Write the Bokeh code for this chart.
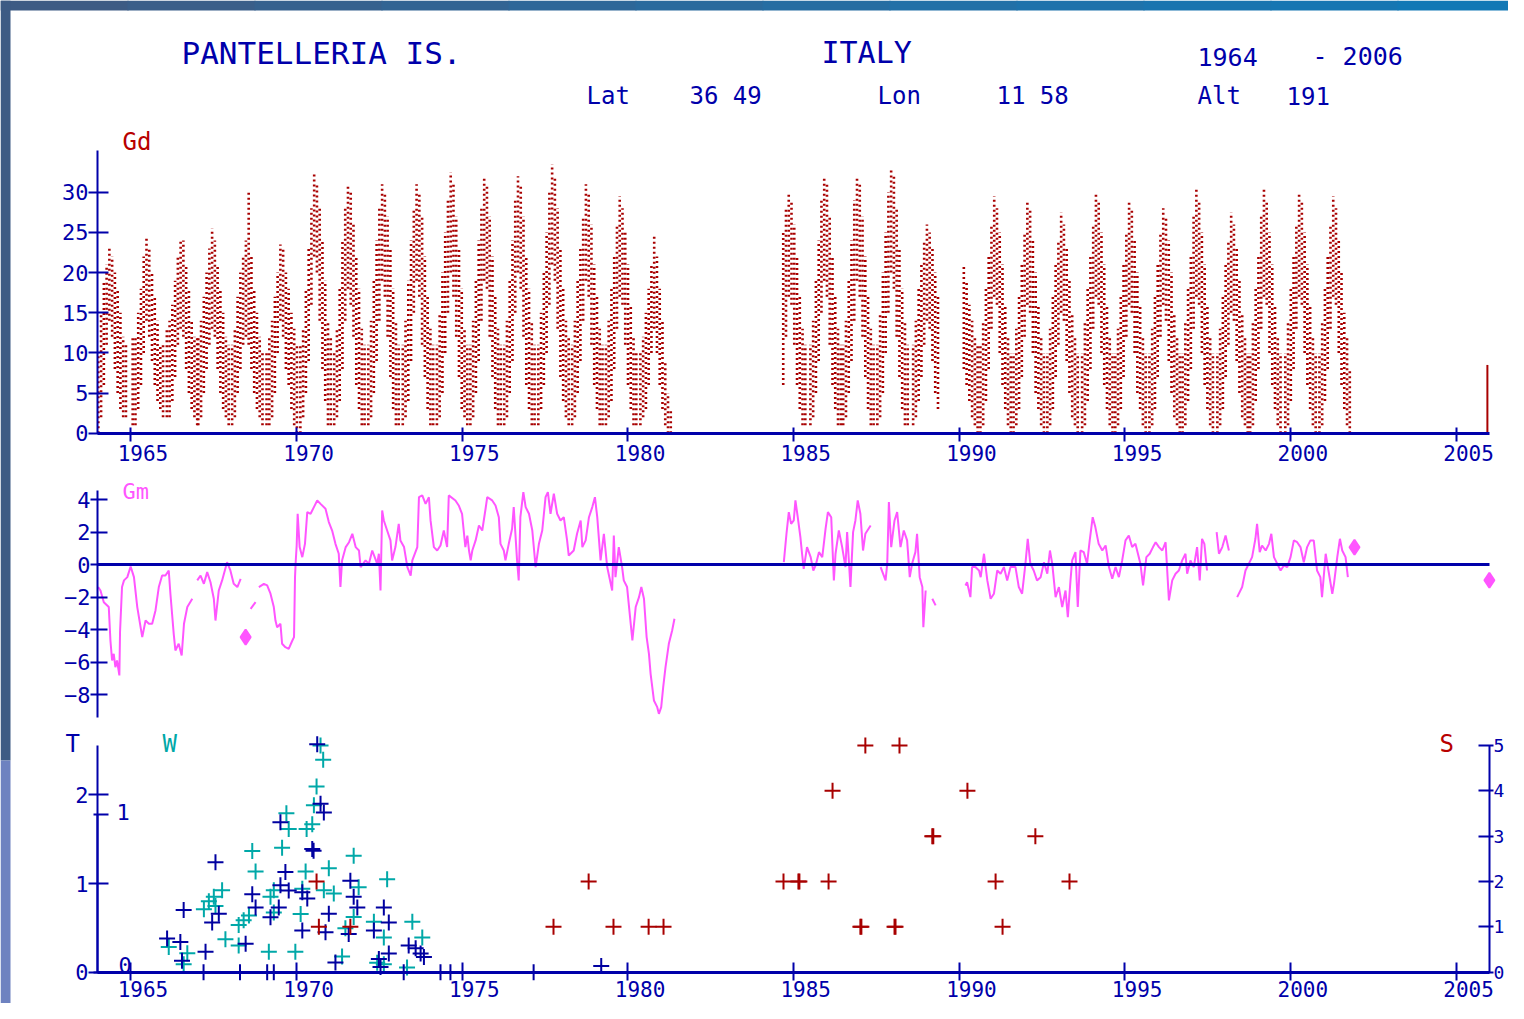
import math
from bokeh.plotting import figure
from bokeh.models import Range1d, LinearAxis, FixedTicker, BoxAnnotation
from bokeh.embed import file_html
from bokeh.resources import INLINE
from bokeh.core.properties import value

# ---------------------------------------------------------------- data
year_ticks = [1965, 1970, 1975, 1980, 1985, 1990, 1995, 2000, 2005]
year_labels = ["1965", "1970", "1975", "1980", "1985", "1990", "1995", "2000", "2005"]
gd_ticks = [0, 5, 10, 15, 20, 25, 30]
gm_ticks = [-8, -6, -4, -2, 0, 2, 4]
t_ticks = [0, 1, 2]
w_ticks = [0, 1]
s_ticks = [0, 1, 2, 3, 4, 5]

# Gd : daily values, summarised per month (low / high of the cloud) for each yearly cycle
gd_peak_t = [1964.40, 1965.52, 1966.55, 1967.50, 1968.52, 1969.56, 1970.58, 1971.60,
             1972.63, 1973.67, 1974.70, 1975.71, 1976.73, 1977.76, 1978.78, 1979.80,
             1980.84, 1984.90, 1985.97, 1986.96, 1987.99, 1989.07, 1990.10, 1991.10,
             1992.10, 1993.12, 1994.17, 1995.17, 1996.20, 1997.20, 1998.25, 1999.24,
             2000.30, 2001.33]
gd_hi = [
    [None, 10, 15, 19, 21, 23, 22, 20, 18, 15, 12, 11],
    [12, 12, 15, 18, 22, 24.5, 23, 20, 17, 14, 11, 11],
    [13, 14, 16, 19, 22, 24, 24, 21, 18, 14, 12, 12],
    [12, 14, 17, 20, 23, 25.5, 24, 21, 18, 15, 12, 11],
    [11, 13, 17, 20, 22, 24, 30, 22, 18, 15, 12, 10],
    [10, 12, 14, 17, 20, 23.5, 23, 20, 18, 15, 13, 11],
    [11, 13, 18, 23, 28, 32.5, 31, 28, 24, 19, 14, 12],
    [10, 13, 18, 24, 28, 31, 30, 26, 22, 18, 13, 11],
    [11, 14, 19, 24, 28, 31, 30, 27, 23, 18, 14, 11],
    [11, 14, 19, 24, 28, 31, 30, 27, 22, 17, 13, 11],
    [11, 15, 20, 25, 29, 32.5, 31, 27, 23, 18, 13, 11],
    [11, 14, 19, 24, 28, 32, 31, 27, 22, 17, 13, 11],
    [11, 14, 19, 24, 29, 32, 31, 27, 22, 18, 14, 11],
    [11, 15, 20, 25, 30, 33.5, 32, 28, 23, 18, 14, 12],
    [11, 14, 19, 23, 27, 31, 30, 26, 21, 17, 13, 11],
    [11, 14, 18, 22, 26, 29.5, 28, 25, 21, 16, 12, 10],
    [10, 12, 15, 18, 21, 24.5, 22, 18, 14, 9, 5, 3],
    [None, None, None, 25, 28, 30, 29, 26, 22, 17, 13, 11],
    [11, 14, 19, 24, 29, 32, 31, 27, 22, 17, 13, 11],
    [11, 14, 19, 24, 29, 32, 31, 27, 22, 17, 13, 11],
    [11, 15, 20, 25, 30, 33, 32, 28, 23, 18, 14, 11],
    [11, 14, 18, 21, 24, 26, 25, 23, 20, 17, None, None],
    [None, None, None, None, None, None, 21, 19, 16, 14, 12, 11],
    [11, 14, 18, 22, 26, 29.5, 28, 25, 21, 16, 12, 10],
    [10, 13, 17, 21, 25, 29, 28, 24, 20, 16, 12, 10],
    [10, 13, 17, 21, 24, 27.5, 26, 23, 19, 15, 12, 10],
    [10, 14, 18, 22, 26, 30, 29, 25, 21, 16, 12, 10],
    [10, 13, 17, 21, 25, 29, 28, 24, 20, 16, 12, 10],
    [10, 13, 17, 21, 25, 28, 27, 24, 20, 15, 12, 10],
    [10, 14, 18, 22, 27, 30.5, 29, 25, 21, 16, 12, 10],
    [10, 13, 17, 21, 24, 27.5, 26, 23, 19, 15, 12, 10],
    [10, 14, 18, 22, 27, 30.5, 29, 25, 21, 16, 12, 10],
    [10, 14, 18, 22, 26, 30, 29, 25, 21, 16, 12, 10],
    [10, 14, 18, 22, 26, 29.5, 28, 24, 20, 15, 12, 8],
]
gd_lo = [
    [None, 0, 2, 6, 11, 14, 12, 8, 5, 3, 2, 2],
    [1, 1, 3, 6, 10, 14, 12, 9, 6, 4, 3, 2],
    [2, 2, 4, 7, 11, 13, 12, 8, 5, 3, 2, 1],
    [1, 2, 5, 8, 11, 13, 12, 8, 5, 3, 2, 1],
    [1, 2, 5, 8, 11, 12, 11, 8, 5, 3, 2, 1],
    [1, 1, 2, 5, 10, 14, 12, 8, 6, 3, 1, 0],
    [0, 2, 5, 9, 16, 22, 20, 14, 8, 4, 1, 1],
    [1, 2, 4, 8, 14, 18, 16, 12, 6, 3, 1, 1],
    [1, 2, 5, 9, 14, 19, 17, 12, 7, 3, 1, 1],
    [1, 2, 4, 9, 15, 19, 17, 11, 7, 3, 1, 1],
    [1, 2, 5, 10, 15, 20, 17, 12, 7, 3, 2, 1],
    [1, 2, 5, 9, 14, 19, 18, 12, 7, 3, 1, 1],
    [1, 2, 5, 9, 15, 20, 18, 12, 6, 3, 1, 1],
    [1, 3, 6, 10, 16, 21, 19, 13, 7, 4, 2, 1],
    [1, 2, 5, 9, 14, 19, 17, 11, 6, 3, 1, 1],
    [1, 2, 4, 8, 13, 17, 16, 11, 6, 3, 1, 1],
    [1, 2, 3, 6, 10, 13, 10, 6, 3, 1, 0, 0],
    [None, None, None, 6, 12, 17, 16, 11, 6, 3, 1, 1],
    [1, 2, 5, 9, 15, 19, 17, 11, 6, 3, 1, 1],
    [1, 2, 5, 9, 14, 19, 17, 12, 7, 3, 1, 1],
    [1, 2, 5, 10, 15, 20, 18, 12, 7, 3, 1, 1],
    [1, 2, 4, 7, 11, 14, 13, 9, 5, 3, None, None],
    [None, None, None, None, None, None, 8, 6, 4, 2, 1, 0],
    [0, 1, 4, 8, 13, 17, 16, 10, 6, 3, 1, 0],
    [0, 1, 3, 7, 12, 16, 15, 10, 5, 3, 1, 0],
    [0, 1, 3, 7, 11, 15, 14, 9, 5, 2, 1, 0],
    [0, 1, 4, 8, 13, 17, 16, 10, 6, 3, 1, 0],
    [0, 1, 3, 7, 12, 16, 15, 10, 5, 3, 1, 0],
    [0, 1, 3, 7, 12, 16, 14, 9, 5, 2, 1, 0],
    [0, 1, 4, 8, 13, 17, 16, 10, 6, 3, 1, 0],
    [0, 1, 3, 7, 11, 15, 14, 9, 5, 2, 1, 0],
    [0, 1, 4, 8, 13, 17, 16, 10, 6, 3, 1, 0],
    [0, 1, 4, 8, 13, 17, 16, 10, 6, 3, 1, 0],
    [0, 1, 4, 8, 13, 17, 16, 10, 6, 3, 1, 0],
]
gd_spike_t = [2005.94]
gd_spike_lo = [0.0]
gd_spike_hi = [8.5]

# Gm : monthly anomaly line, one list of (year, value) per continuous stretch
gm_1964 = [(1964.02, -1.37), (1964.09, -1.58), (1964.19, -2.30), (1964.34, -2.60), (1964.39, -4.66),
           (1964.44, -5.89), (1964.49, -5.48), (1964.54, -6.30), (1964.59, -5.89), (1964.66, -6.81),
           (1964.68, -4.14), (1964.74, -1.37), (1964.80, -0.96), (1964.90, -0.76), (1965.00, -0.10),
           (1965.10, -0.76), (1965.20, -2.60), (1965.30, -3.84), (1965.35, -4.45), (1965.45, -3.43),
           (1965.55, -3.63), (1965.65, -3.63), (1965.75, -2.81), (1965.85, -1.37), (1965.95, -0.66),
           (1966.05, -0.66), (1966.15, -0.35), (1966.20, -1.78), (1966.30, -4.25), (1966.35, -5.27),
           (1966.45, -4.86), (1966.54, -5.58), (1966.61, -3.63), (1966.71, -2.60), (1966.86, -2.09)]
gm_1967 = [(1967.01, -0.96), (1967.11, -0.66), (1967.21, -1.17), (1967.31, -0.45), (1967.41, -1.07),
           (1967.51, -2.09), (1967.56, -3.43), (1967.66, -1.58), (1967.76, -0.96), (1967.91, 0.16),
           (1968.01, -0.35), (1968.11, -1.17), (1968.22, -1.37), (1968.32, -0.86)]
gm_1968a = [(1968.62, -2.71), (1968.77, -2.30)]
gm_1968b = [(1968.87, -1.37), (1969.02, -1.17), (1969.12, -1.27), (1969.22, -1.78), (1969.32, -2.60),
            (1969.37, -3.43), (1969.42, -3.84), (1969.52, -3.63), (1969.57, -4.86), (1969.67, -5.07),
            (1969.77, -5.17), (1969.88, -4.66), (1969.93, -4.45), (1969.96, -0.76), (1969.98, 0.16),
            (1970.01, 1.19), (1970.04, 3.14), (1970.10, 1.09), (1970.18, 0.47), (1970.26, 1.29),
            (1970.33, 3.24), (1970.43, 3.14), (1970.53, 3.55), (1970.63, 3.96), (1970.73, 3.75),
            (1970.88, 3.45), (1970.98, 2.63), (1971.08, 2.11), (1971.18, 1.29), (1971.28, 0.68),
            (1971.33, -1.37), (1971.38, 0.27), (1971.49, 1.09), (1971.59, 1.39), (1971.69, 1.91),
            (1971.79, 1.09), (1971.89, 0.88), (1971.94, -0.14), (1972.09, 0.27), (1972.19, 0.06),
            (1972.29, 0.88), (1972.44, 0.06), (1972.49, 0.68), (1972.54, -1.58), (1972.59, 3.34),
            (1972.64, 2.73), (1972.74, 2.11), (1972.84, 1.50), (1972.89, 0.27), (1972.99, 1.09),
            (1973.09, 2.52), (1973.14, 1.50), (1973.25, 1.09), (1973.35, -0.14), (1973.45, -0.66),
            (1973.50, 0.27), (1973.65, 1.09), (1973.70, 4.16), (1973.80, 4.27), (1973.90, 3.75),
            (1974.00, 4.16), (1974.05, 2.73), (1974.15, 1.09), (1974.25, 0.88), (1974.35, 1.19),
            (1974.45, 2.11), (1974.55, 1.09), (1974.60, 4.27), (1974.80, 3.96), (1974.90, 3.65),
            (1975.00, 3.14), (1975.05, 2.11), (1975.10, 1.09), (1975.16, 1.80), (1975.21, 0.88),
            (1975.26, 0.27), (1975.31, 0.88), (1975.41, 1.50), (1975.51, 2.42), (1975.61, 2.11),
            (1975.71, 3.45), (1975.76, 4.16), (1975.91, 3.96), (1976.01, 3.65), (1976.11, 2.93),
            (1976.16, 1.29), (1976.26, 0.88), (1976.31, 0.27), (1976.41, 1.29), (1976.51, 2.22),
            (1976.56, 3.55), (1976.66, 0.27), (1976.71, -0.96), (1976.76, 2.93), (1976.85, 4.47),
            (1976.92, 3.55), (1977.02, 3.14), (1977.12, 2.11), (1977.22, -0.14), (1977.32, 1.29),
            (1977.42, 2.11), (1977.52, 4.16), (1977.59, 4.47), (1977.67, 3.14), (1977.77, 4.37),
            (1977.87, 3.14), (1977.97, 2.73), (1978.07, 2.93), (1978.17, 1.50), (1978.22, 0.57),
            (1978.37, 0.88), (1978.47, 1.91), (1978.58, 2.73), (1978.63, 1.09), (1978.73, 1.50),
            (1978.83, 2.93), (1978.93, 3.55), (1979.01, 4.16), (1979.08, 2.93), (1979.18, 0.27),
            (1979.28, 1.91), (1979.38, -0.14), (1979.53, -1.58), (1979.58, 1.80), (1979.63, -0.76),
            (1979.73, 1.09), (1979.83, -0.14), (1979.88, -0.96), (1979.98, -1.37), (1980.08, -3.43),
            (1980.14, -4.66), (1980.24, -2.60), (1980.34, -1.99), (1980.41, -1.37), (1980.49, -2.09),
            (1980.57, -4.45), (1980.64, -5.48), (1980.69, -6.71), (1980.79, -8.35), (1980.89, -8.76),
            (1980.94, -9.17), (1981.01, -8.76), (1981.07, -7.53), (1981.14, -6.30), (1981.24, -4.86),
            (1981.34, -4.04), (1981.41, -3.32)]
gm_1984 = [(1984.71, 0.16), (1984.79, 1.91), (1984.86, 3.24), (1984.93, 2.52), (1985.01, 2.73),
           (1985.06, 3.96), (1985.13, 2.93), (1985.21, 1.70), (1985.26, 0.68), (1985.31, -0.25),
           (1985.41, 1.09), (1985.52, 0.47), (1985.60, -0.35), (1985.67, -0.04), (1985.77, 0.78),
           (1985.87, 0.47), (1985.97, 2.22), (1986.04, 3.24), (1986.14, 2.93), (1986.22, -0.96),
           (1986.27, 0.68), (1986.37, 2.11), (1986.47, 1.09), (1986.57, -0.14), (1986.62, 2.01),
           (1986.72, -1.37), (1986.80, 2.01), (1986.87, 2.73), (1986.94, 3.96), (1987.02, 3.14),
           (1987.10, 0.88), (1987.17, 1.91), (1987.33, 2.42)]
gm_1987 = [(1987.63, -0.14), (1987.78, -0.96), (1987.83, 0.06), (1987.88, 3.86), (1987.95, 1.09),
           (1988.05, 2.73), (1988.13, 3.24), (1988.23, 1.09), (1988.33, 2.11), (1988.43, 1.50),
           (1988.51, -0.76), (1988.58, 0.06), (1988.68, 0.78), (1988.73, 1.91), (1988.81, -0.76),
           (1988.89, -1.37), (1988.92, -3.84), (1988.99, -1.58)]
gm_1989 = [(1989.19, -2.09), (1989.29, -2.50)]
gm_1990 = [(1990.19, -1.27), (1990.24, -1.07), (1990.34, -1.99), (1990.39, -0.14), (1990.49, -0.14),
           (1990.60, -0.35), (1990.65, -0.76), (1990.75, 0.68), (1990.85, -0.96), (1990.95, -2.09),
           (1991.05, -1.78), (1991.15, -0.35), (1991.25, -0.55), (1991.35, -0.14), (1991.45, -0.96),
           (1991.55, -0.14), (1991.70, -0.14), (1991.80, -1.37), (1991.90, -1.78), (1992.00, 0.06),
           (1992.07, 1.60), (1992.15, 0.06), (1992.25, -0.35), (1992.35, -0.96), (1992.46, -0.76),
           (1992.56, 0.16), (1992.66, -0.55), (1992.74, 0.88), (1992.81, 0.06), (1992.91, -1.99),
           (1993.01, -1.37), (1993.11, -2.60), (1993.21, -1.58), (1993.28, -3.22), (1993.36, -0.96),
           (1993.41, 0.27), (1993.51, 0.78), (1993.58, -2.60), (1993.66, 0.88), (1993.76, 0.78),
           (1993.86, 0.06), (1993.94, 1.50), (1994.03, 2.93), (1994.11, 2.32), (1994.21, 1.29),
           (1994.32, 0.88), (1994.42, 1.19), (1994.52, -0.14), (1994.62, -0.86), (1994.72, -0.14),
           (1994.82, -0.76), (1994.92, 0.27), (1995.02, 1.50), (1995.12, 1.80), (1995.22, 1.09),
           (1995.32, 1.29), (1995.47, 0.06), (1995.55, -1.27), (1995.65, 0.47), (1995.75, 0.68),
           (1995.85, 1.09), (1995.93, 1.39), (1996.03, 1.09), (1996.13, 0.88), (1996.23, 1.39),
           (1996.33, -2.19), (1996.43, -0.96), (1996.53, -0.55), (1996.63, -0.35), (1996.73, 0.27),
           (1996.83, 0.68), (1996.88, -0.55), (1996.98, 0.27), (1997.08, -0.14), (1997.18, 1.09),
           (1997.26, -0.96), (1997.33, 1.60), (1997.40, 1.29), (1997.48, -0.35)]
gm_1997 = [(1997.77, 2.01), (1997.84, 0.68), (1997.94, 1.09), (1998.04, 1.80), (1998.14, 0.88)]
gm_1998 = [(1998.39, -1.99), (1998.54, -1.37), (1998.64, -0.35), (1998.74, 0.06), (1998.84, 0.47),
           (1998.94, 1.60), (1998.99, 2.52), (1999.07, 0.78), (1999.14, 1.19), (1999.25, 0.88),
           (1999.35, 1.29), (1999.42, 1.91), (1999.50, 0.47), (1999.60, 0.06), (1999.70, -0.35),
           (1999.80, -0.04), (1999.90, -0.14), (2000.00, 0.47), (2000.10, 1.50), (2000.20, 1.39),
           (2000.30, 1.09), (2000.40, 0.16), (2000.50, 1.09), (2000.60, 1.50), (2000.70, 1.50),
           (2000.80, -0.35), (2000.90, -0.76), (2000.95, -1.99), (2001.06, 0.68), (2001.16, -0.55),
           (2001.26, -1.78), (2001.31, -1.17), (2001.41, 0.47), (2001.49, 1.60), (2001.56, 0.88),
           (2001.66, 0.47), (2001.73, -0.76)]
gm_mark_t = [1968.47, 2001.93, 2006.0]
gm_mark_v = [-4.45, 1.08, -0.95]

# T (dark blue crosses, left scale)
t_year = [1970.63, 1970.73, 1970.83, 1969.52, 1970.48, 1970.52, 1967.56, 1969.67, 1971.63, 1969.52,
          1969.77, 1968.67, 1970.18, 1970.33, 1971.73, 1971.84, 1968.77, 1969.47, 1966.60, 1972.64,
          1967.66, 1970.98, 1969.22, 1967.46, 1972.79, 1970.18, 1970.88, 1971.58, 1972.34, 1966.10,
          1966.50, 1968.47, 1973.39, 1973.75, 1973.60, 1973.85, 1967.26, 1972.79, 1971.18, 1972.49,
          1966.55, 1967.20, 1968.30, 1969.12, 1969.32, 1972.54, 1973.24, 1974.35, 1974.65, 1977.16,
          1979.20]
t_val = [2.57, 1.90, 1.80, 1.69, 1.39, 1.37, 1.24, 1.13, 1.03, 0.98,
         0.92, 0.88, 0.90, 0.83, 0.85, 0.73, 0.73, 0.73, 0.70, 0.73,
         0.66, 0.66, 0.62, 0.56, 0.56, 0.47, 0.45, 0.43, 0.47, 0.38,
         0.34, 0.32, 0.30, 0.21, 0.27, 0.17, 0.23, 0.21, 0.11, 0.15,
         0.13, 0.0, 0.0, 0.0, 0.0, 0.06, 0.0, 0.0, 0.0, 0.0,
         0.07]
# W (teal crosses, inner scale 0-1)
w_year = [1970.73, 1970.81, 1970.61, 1970.53, 1970.48, 1970.31, 1969.70, 1969.77, 1969.57, 1968.67,
          1971.73, 1970.98, 1968.77, 1970.28, 1972.74, 1967.76, 1969.32, 1970.18, 1971.88, 1971.13,
          1970.83, 1967.51, 1969.22, 1967.36, 1967.56, 1967.21, 1969.32, 1970.13, 1968.57, 1971.73,
          1968.41, 1968.26, 1972.34, 1973.50, 1971.48, 1972.64, 1973.80, 1967.86, 1968.26, 1966.15,
          1969.17, 1969.97, 1966.71, 1971.38, 1966.60, 1972.44, 1972.64, 1973.34]
w_val = [1.44, 1.35, 1.18, 1.06, 0.94, 0.91, 1.01, 0.91, 0.79, 0.77,
         0.74, 0.66, 0.64, 0.64, 0.59, 0.52, 0.52, 0.53, 0.54, 0.50,
         0.52, 0.48, 0.48, 0.45, 0.42, 0.40, 0.38, 0.37, 0.36, 0.35,
         0.33, 0.30, 0.32, 0.32, 0.28, 0.22, 0.22, 0.21, 0.17, 0.16,
         0.13, 0.13, 0.12, 0.10, 0.05, 0.06, 0.05, 0.03]
# S (red crosses, right scale)
s_year = [1970.61, 1970.68, 1971.63, 1977.76, 1978.82, 1979.57, 1980.63, 1981.08, 1984.70, 1985.15,
          1985.18, 1986.06, 1986.18, 1987.02, 1987.05, 1987.17, 1988.05, 1988.08, 1988.20, 1989.19,
          1989.22, 1990.25, 1991.10, 1991.31, 1992.30, 1993.33]
s_val = [2, 1, 1, 1, 2, 1, 1, 1, 2, 2,
         2, 2, 4, 1, 1, 5, 1, 1, 5, 3,
         3, 4, 2, 1, 3, 2]

# ---------------------------------------------------------------- layout / style
W_PX, H_PX = 1508, 1003
K = 33.14                      # px per year
X0 = 1964 - 97 / K             # left edge of canvas in years
X1 = X0 + W_PX / K


def yr(zero_px, px_per_unit):
    return Range1d(-(H_PX - zero_px) / px_per_unit, zero_px / px_per_unit)


BLUE = "#0000AA"
NAVY = "#0000A0"
RED = "#A80000"
RED_T = "#B80000"
MAG = "#FF55FF"
CYAN = "#00A8A8"
FONT = "DejaVu Sans Mono"

p = figure(width=W_PX, height=H_PX, x_range=Range1d(X0, X1), y_range=yr(432.7, 8.03),
           output_backend="svg", toolbar_location=None, min_border=0,
           x_axis_location=None, y_axis_location=None, title=None)
p.extra_y_ranges = {"gm": yr(564.3, 16.25), "t": yr(971.7, 88.7),
                    "w": yr(971.7, 157.4), "s": yr(971.7, 45.34)}
p.grid.grid_line_color = None
p.outline_line_color = None
p.background_fill_color = "white"
p.border_fill_color = "white"


def tx(px):
    return X0 + px / K


def ty(py):
    return (432.7 - py) / 8.03


# window frame (blue bars on top and left edge)
top_cols = ["#3D5B84", "#3A5E89", "#36618E", "#326493", "#2E6798", "#2A6A9D",
            "#266DA2", "#2270A7", "#1E72AB", "#1A74AF", "#1676B2", "#1278B5"]
for i, c in enumerate(top_cols):
    p.add_layout(BoxAnnotation(left=tx(i * 1524 / 12), right=tx((i + 1) * 1524 / 12 + 1),
                               bottom=ty(10), fill_color=c, fill_alpha=1, line_color=None))
p.add_layout(BoxAnnotation(right=tx(10), bottom=ty(760), fill_color="#3D5B84", fill_alpha=1, line_color=None))
p.add_layout(BoxAnnotation(right=tx(10), top=ty(760), fill_color="#6E82C0", fill_alpha=1, line_color=None))


def style(ax, t_in, t_out, labels=True, size="22px", standoff=0, width=2):
    ax.axis_line_color = BLUE
    ax.axis_line_width = width
    ax.major_tick_line_color = BLUE
    ax.major_tick_line_width = 2
    ax.major_tick_in = t_in
    ax.major_tick_out = t_out
    ax.minor_tick_line_color = None
    ax.major_label_standoff = standoff
    ax.major_label_text_font = FONT
    ax.major_label_text_font_size = size
    ax.major_label_text_color = BLUE if labels else None
    if not labels:
        ax.major_label_text_font_size = "0px"


# Gd panel axes
ax = LinearAxis(fixed_location=1964, bounds=(0, 35.2), ticker=FixedTicker(ticks=gd_ticks))
style(ax, 11, 9)
p.add_layout(ax, "left")
ax = LinearAxis(fixed_location=0, bounds=(1964, 2006), ticker=FixedTicker(ticks=year_ticks))
style(ax, 6, 8, labels=False, width=3)
p.add_layout(ax, "below")

# Gm panel axes
ax = LinearAxis(y_range_name="gm", fixed_location=1964, bounds=(-9.4, 4.57),
                ticker=FixedTicker(ticks=gm_ticks))
style(ax, 10, 7)
p.add_layout(ax, "left")
ax = LinearAxis(y_range_name="gm", fixed_location=0, bounds=(1964, 2006),
                ticker=FixedTicker(ticks=[]))
style(ax, 0, 0, labels=False, width=3)
p.add_layout(ax, "below")

# bottom panel axes
ax = LinearAxis(y_range_name="t", fixed_location=1964, bounds=(0, 2.56), ticker=FixedTicker(ticks=t_ticks))
style(ax, 11, 9)
p.add_layout(ax, "left")
ax = LinearAxis(y_range_name="w", fixed_location=1964, bounds=(0, 1), ticker=FixedTicker(ticks=w_ticks))
style(ax, 4, 11, labels=False)
p.add_layout(ax, "right")
ax = LinearAxis(y_range_name="s", fixed_location=2006, bounds=(0, 5), ticker=FixedTicker(ticks=s_ticks))
style(ax, 11, 4, size="18px", standoff=0)
p.add_layout(ax, "right")
ax = LinearAxis(y_range_name="t", fixed_location=0, bounds=(1964, 2006), ticker=FixedTicker(ticks=year_ticks))
style(ax, 10, 8, labels=False, width=3)
p.add_layout(ax, "below")

# ---------------------------------------------------------------- marks
seg_x, seg_lo, seg_hi = [], [], []
for tp, his, los in zip(gd_peak_t, gd_hi, gd_lo):
    for m, (h, l) in enumerate(zip(his, los)):
        if h is None or l is None:
            continue
        seg_x.append(tp + (m - 5.5) / 12.0)
        seg_lo.append(l)
        seg_hi.append(h)
p.segment(x0=seg_x, y0=seg_lo, x1=seg_x, y1=seg_hi, line_color=RED, line_width=2.6, line_dash="2 3")
p.segment(x0=gd_spike_t, y0=gd_spike_lo, x1=gd_spike_t, y1=gd_spike_hi, line_color=RED, line_width=2)

gm_x, gm_y = [], []
for seg in [gm_1964, gm_1967, gm_1968a, gm_1968b, gm_1984, gm_1987, gm_1989, gm_1990, gm_1997, gm_1998]:
    if gm_x:
        gm_x.append(float("nan"))
        gm_y.append(float("nan"))
    for t, v in seg:
        gm_x.append(t)
        gm_y.append(v)
p.line(gm_x, gm_y, y_range_name="gm", line_color=MAG, line_width=2)
p.scatter(gm_mark_t, gm_mark_v, y_range_name="gm", marker="diamond_cross", size=15,
          fill_color=MAG, line_color=MAG, line_width=2)

p.scatter(w_year, w_val, y_range_name="w", marker="cross", size=16, line_color=CYAN, line_width=2)
p.scatter(t_year, t_val, y_range_name="t", marker="cross", size=16, line_color=NAVY, line_width=2)
p.scatter(s_year, s_val, y_range_name="s", marker="cross", size=16, line_color=RED, line_width=2)

# ---------------------------------------------------------------- texts


def put(text, px, py, size, color):
    p.text(x=[tx(px)], y=[ty(py)], text=[text], text_font=value(FONT), text_font_size=value(size),
           text_color=color, text_align="left", text_baseline="middle")


put("PANTELLERIA IS.", 181, 52, "31px", BLUE)
put("ITALY", 821, 52, "30px", BLUE)
put("1964", 1197, 56, "25px", BLUE)
put("- 2006", 1312, 56, "25px", BLUE)
put("Lat", 586, 95, "24px", BLUE)
put("36 49", 689, 95, "24px", BLUE)
put("Lon", 877, 95, "24px", BLUE)
put("11 58", 996, 95, "24px", BLUE)
put("Alt", 1197, 95, "24px", BLUE)
put("191", 1286, 95, "24px", BLUE)
put("Gd", 122, 141, "24px", RED_T)
put("Gm", 122, 491, "22px", MAG)
put("T", 65, 743, "24px", BLUE)
put("W", 162, 743, "24px", CYAN)
put("S", 1439, 743, "24px", RED_T)
put("1", 116, 811, "22px", BLUE)
put("0", 118, 964, "22px", BLUE)

for py in (452, 988):
    p.text(x=year_ticks, y=[ty(py)] * len(year_ticks), text=year_labels, x_offset=-13,
           text_font=value(FONT), text_font_size=value("21px"), text_color=BLUE,
           text_align="left", text_baseline="middle")

open("out.html", "w").write(file_html(p, INLINE))
